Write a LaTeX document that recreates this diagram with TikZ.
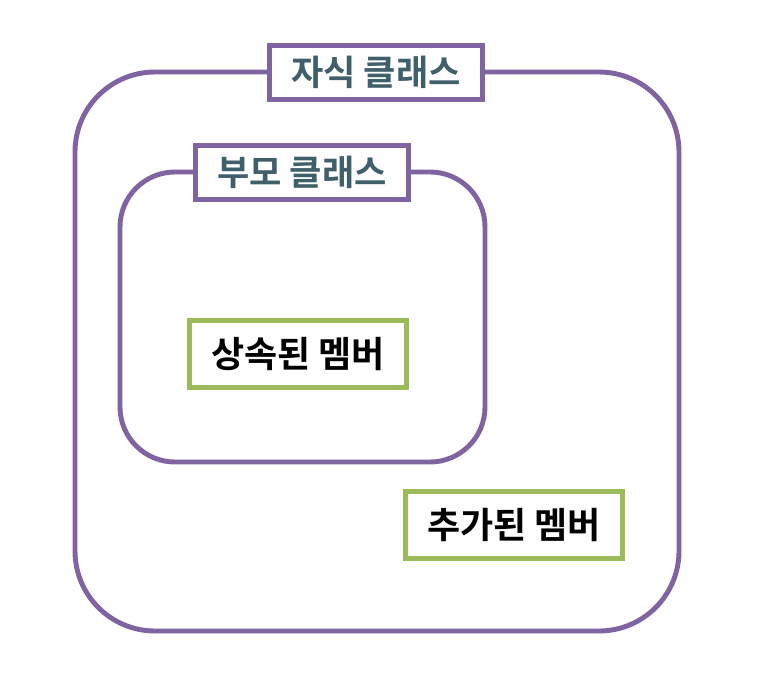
\documentclass[tikz,border=0pt]{standalone}
\usepackage{fontspec}
\newfontfamily\kr{Noto Sans CJK KR Bold}
\definecolor{framepurple}{HTML}{8064A2}
\definecolor{membergreen}{HTML}{9BBB59}
\definecolor{titleteal}{HTML}{3F5F6B}
\tikzset{
  classframe/.style={draw=framepurple, line width=2.8pt},
  classtitle/.style={draw=framepurple, line width=2.8pt, fill=white,
    text=titleteal, font=\kr\fontsize{20}{22}\selectfont,
    minimum width=4.27cm, minimum height=1.08cm, inner sep=0pt},
  memberbox/.style={draw=membergreen, line width=2.8pt, fill=white,
    font=\kr\fontsize{20.5}{22}\selectfont,
    minimum width=4.34cm, minimum height=1.34cm, inner sep=0pt}
}
\begin{document}
\begin{tikzpicture}[x=0.02cm, y=-0.02cm]
\useasboundingbox (0,0) rectangle (770,699);
% frames
\draw[classframe, rounded corners=1.6cm] (75,72) rectangle (679,631);
\draw[classframe, rounded corners=1.1cm] (120,172) rectangle (485,462);
% titles
\node[classtitle] (child) at (376,72.5) {자식 클래스};
\node[classtitle] (parent) at (302,172.5) {부모 클래스};
% members
\node[memberbox] (inherited) at (298,354) {상속된 멤버};
\node[memberbox] (added) at (514,525) {추가된 멤버};
\end{tikzpicture}
\end{document}
